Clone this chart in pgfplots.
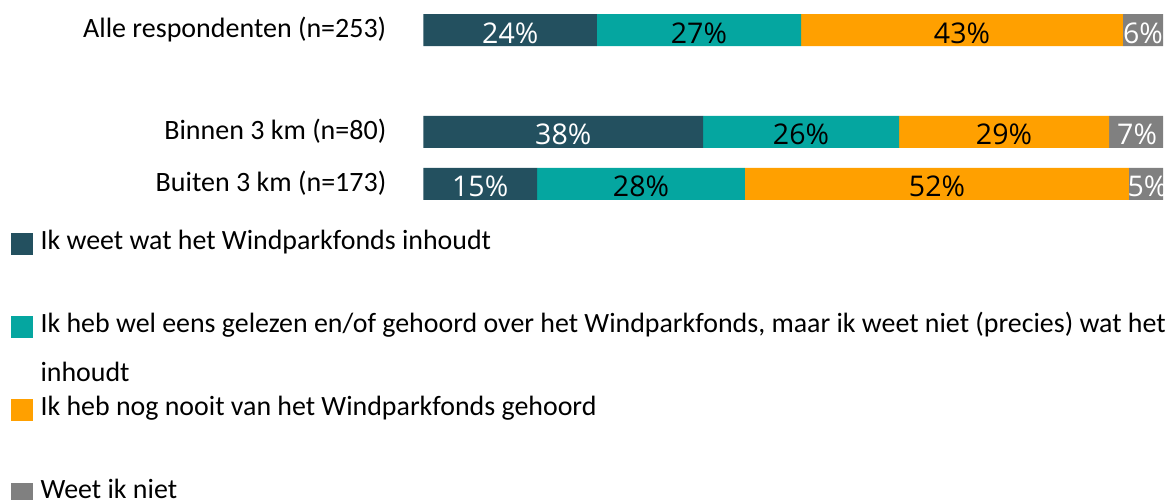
\documentclass[border=0pt]{standalone}
\usepackage{fontspec}
\setmainfont{Carlito}
\newfontfamily\labfont{Open Sans}
\usepackage{pgfplots}
\usepackage{pgfplotstable}
\pgfplotsset{compat=1.18}
\definecolor{c1}{HTML}{23505F}
\definecolor{c2}{HTML}{05A6A0}
\definecolor{c3}{HTML}{FFA000}
\definecolor{c4}{HTML}{808080}
\pgfplotsset{sqleg/.style={legend image code/.code={\fill[##1] (0pt,-11pt) rectangle (22pt,11pt);}}}

\pgfplotstableread{
y a b c d
0 15.35 28.12 51.93 4.60
1 37.80 26.50 28.40 7.30
2.96 23.46 27.59 43.54 5.41
}\datatab

\pgfplotstableread{
x y lab
11.73 2.96 24
97.30 2.96 6
18.90 1 38
96.50 1 7
7.67 0 15
97.90 0 5
}\whitetab

\pgfplotstableread{
x y lab
37.25 2.96 27
72.82 2.96 43
51.05 1 26
78.50 1 29
29.41 0 28
69.44 0 52
}\blacktab

\begin{document}
\begin{tikzpicture}
\path[use as bounding box] (0,0) rectangle (1171pt,-500pt);
\begin{axis}[
  at={(423.5pt,-210pt)}, anchor=south west,
  scale only axis, width=739.5pt, height=206pt,
  xmin=0, xmax=100, ymin=-0.5, ymax=3.46,
  xbar stacked, bar width=32pt,
  axis lines=left, axis line style={draw=none},
  xtick=\empty, ytick={0,1,2.96},
  yticklabels={Buiten 3 km (n=173),Binnen 3 km (n=80),Alle respondenten (n=253)},
  major tick length=0pt,
  yticklabel style={font=\fontsize{28}{33}\selectfont, anchor=mid east, inner sep=0pt, xshift=-37pt, yshift=-5pt},
  legend style={at={(axis description cs:-0.5578,-0.1117)}, anchor=north west,
    draw=none, fill=none, inner sep=0pt, outer sep=0pt,
    row sep=19.6pt, column sep=7.5pt,
    font=\fontsize{27.9}{33}\selectfont,
    nodes={inner sep=0pt, text height=15pt, text depth=5pt, minimum height=22pt}},
  legend cell align=left,
  clip=false,
]
\addplot[fill=c1, draw=none, sqleg] table[x=a,y=y]{\datatab};
\addlegendentry{Ik weet wat het Windparkfonds inhoudt}
\addlegendimage{empty legend}
\addlegendentry{}
\addplot[fill=c2, draw=none, sqleg] table[x=b,y=y]{\datatab};
\addlegendentry{Ik heb wel eens gelezen en/of gehoord over het Windparkfonds, maar ik weet niet (precies) wat het}
\addlegendimage{empty legend}
\addlegendentry{\raisebox{-8pt}[0pt][0pt]{inhoudt}}
\addplot[fill=c3, draw=none, sqleg] table[x=c,y=y]{\datatab};
\addlegendentry{Ik heb nog nooit van het Windparkfonds gehoord}
\addlegendimage{empty legend}
\addlegendentry{}
\addplot[fill=c4, draw=none, sqleg] table[x=d,y=y]{\datatab};
\addlegendentry{Weet ik niet}
\end{axis}
\begin{axis}[
  at={(423.5pt,-210pt)}, anchor=south west,
  scale only axis, width=739.5pt, height=206pt,
  xmin=0, xmax=100, ymin=-0.5, ymax=3.46,
  hide axis, clip=false,
  nodes near coords={\pgfplotspointmeta\%}, point meta=explicit symbolic,
  nodes near coords align={center},
  every node near coord/.append style={anchor=base, yshift=-13pt, inner sep=0pt,
    font=\labfont\fontsize{28.5}{33}\selectfont},
]
\addplot[draw=none, mark=none, every node near coord/.append style={text=white}] table[x=x,y=y,meta=lab]{\whitetab};
\addplot[draw=none, mark=none, every node near coord/.append style={text=black}] table[x=x,y=y,meta=lab]{\blacktab};
\end{axis}
\end{tikzpicture}
\end{document}
